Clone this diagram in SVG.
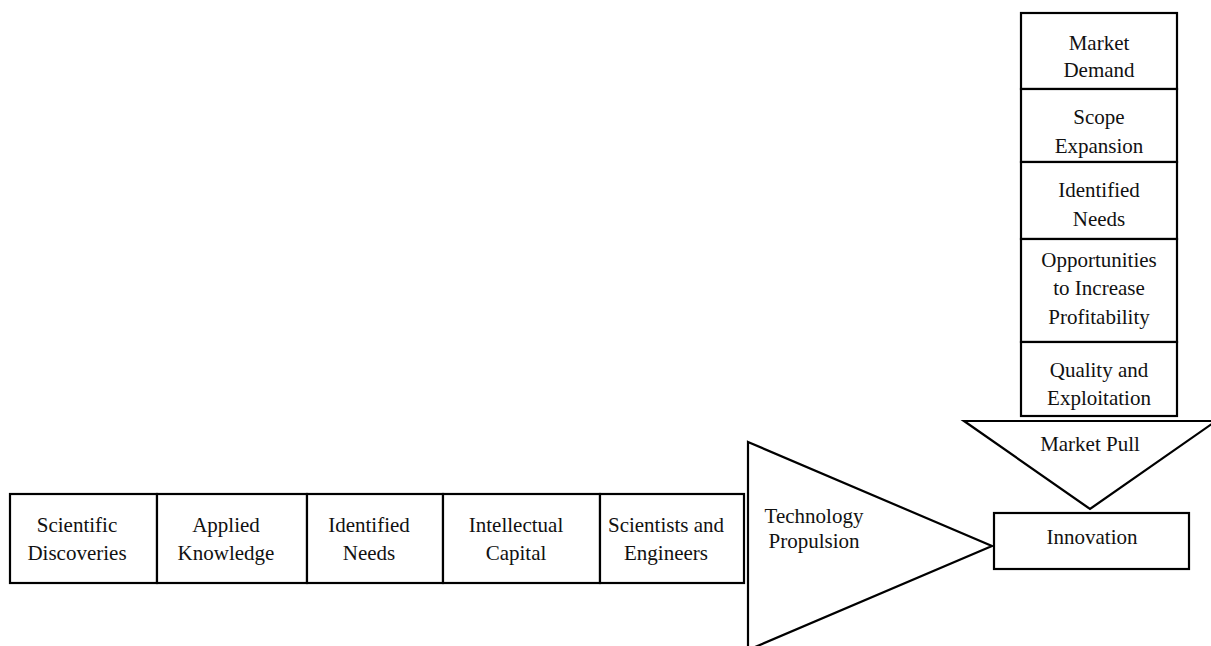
<svg xmlns="http://www.w3.org/2000/svg" width="1211" height="646" viewBox="0 0 1211 646">
<style>
.box{fill:#fff;stroke:#000;stroke-width:2.2}
.tri{fill:#fff;stroke:#000;stroke-width:2.2;stroke-linejoin:miter}
text{font-family:'Liberation Serif','Times New Roman','DejaVu Serif',serif;font-size:21px;fill:#111;text-anchor:middle}
</style>
<rect width="1211" height="646" fill="#fff"/>
<g id="connectors"></g>
<g id="scientific-discoveries"><rect class="box" x="10" y="494" width="147" height="89"/><text x="77" y="532">Scientific</text><text x="77" y="560">Discoveries</text></g>
<g id="applied-knowledge"><rect class="box" x="157" y="494" width="150" height="89"/><text x="226" y="532">Applied</text><text x="226" y="560">Knowledge</text></g>
<g id="identified-needs-row"><rect class="box" x="307" y="494" width="136" height="89"/><text x="369" y="532">Identified</text><text x="369" y="560">Needs</text></g>
<g id="intellectual-capital"><rect class="box" x="443" y="494" width="157" height="89"/><text x="516" y="532">Intellectual</text><text x="516" y="560">Capital</text></g>
<g id="scientists-engineers"><rect class="box" x="600" y="494" width="144" height="89"/><text x="666" y="532">Scientists and</text><text x="666" y="560">Engineers</text></g>
<g id="technology-propulsion"><polygon class="tri" points="748,442 992,546 748,650"/><text x="814" y="523">Technology</text><text x="814" y="548">Propulsion</text></g>
<g id="innovation"><rect class="box" x="994" y="513" width="195" height="56"/><text x="1092" y="544">Innovation</text></g>
<g id="market-demand"><rect class="box" x="1021" y="13" width="156" height="76"/><text x="1099" y="50">Market</text><text x="1099" y="77">Demand</text></g>
<g id="scope-expansion"><rect class="box" x="1021" y="89" width="156" height="73"/><text x="1099" y="124">Scope</text><text x="1099" y="153">Expansion</text></g>
<g id="identified-needs-col"><rect class="box" x="1021" y="162" width="156" height="77"/><text x="1099" y="197">Identified</text><text x="1099" y="226">Needs</text></g>
<g id="opportunities"><rect class="box" x="1021" y="239" width="156" height="103"/><text x="1099" y="267">Opportunities</text><text x="1099" y="295">to Increase</text><text x="1099" y="324">Profitability</text></g>
<g id="quality-exploitation"><rect class="box" x="1021" y="342" width="156" height="74"/><text x="1099" y="377">Quality and</text><text x="1099" y="405">Exploitation</text></g>
<g id="market-pull"><polygon class="tri" points="964,421 1216,421 1090,509"/><text x="1090" y="451">Market Pull</text></g>
</svg>
